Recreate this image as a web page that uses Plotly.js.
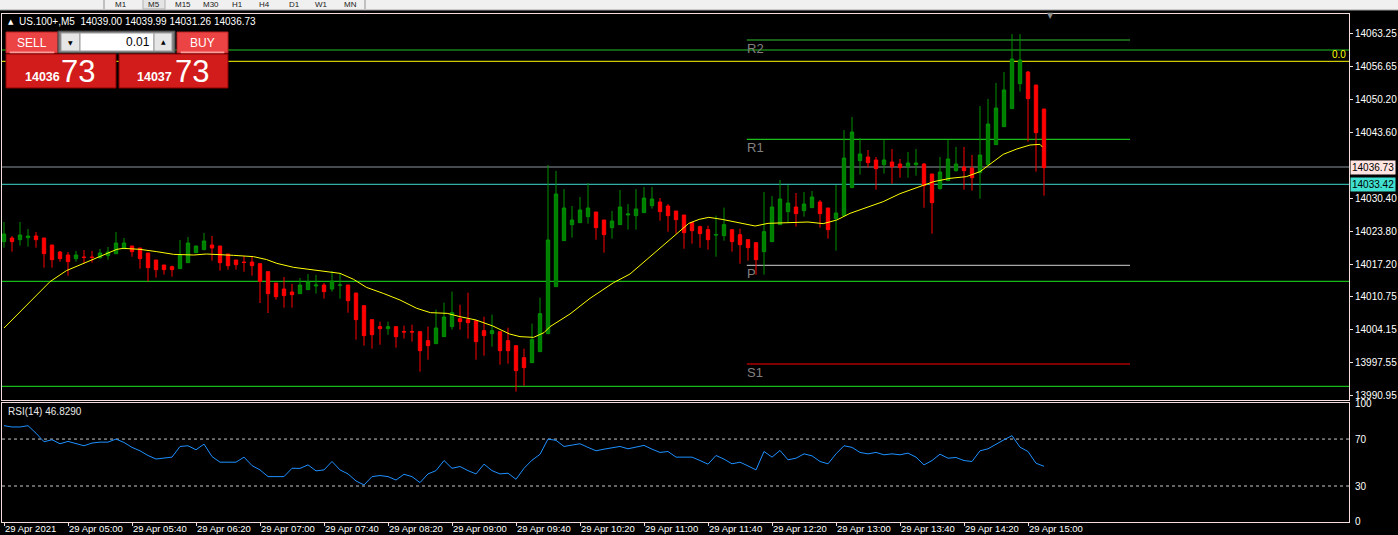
<!DOCTYPE html>
<html><head><meta charset="utf-8">
<script src="https://cdn.plot.ly/plotly-3.0.1.min.js"></script>
<style>html,body{margin:0;padding:0;background:#000;}#chart{width:1398px;height:535px;}</style>
</head><body><div id="chart"></div>
<script>
// ---------- DATA ----------
const symbolHeader = "US.100+,M5\u00a0\u00a014039.00 14039.99 14031.26 14036.73";
const openP = [14021.67,14022.4,14022.07,14022.47,14022.8,14022.4,14021.0,14019.6,14019.0,14018.27,
14018.6,14018.6,14018.47,14018.87,14019.27,14020.27,14020.8,14020.4,14019.4,14018.0,
14017.0,14016.67,14016.27,14017.47,14019.47,14020.07,14021.0,14020.8,14019.2,14018.0,
14017.6,14017.6,14017.27,14015.67,14013.4,14012.2,14011.6,14011.27,14012.07,14012.8,
14013.0,14012.2,14012.95,14013.0,14011.4,14008.87,14006.07,14004.67,14004.27,14004.67,
14003.7,14003.7,14003.67,14001.87,14001.27,14002.67,14004.67,14006.27,14006.07,14005.87,
14003.87,14003.27,14003.67,14001.87,14000.87,13998.47,13997.47,13999.67,14003.27,14012.67,
14021.87,14025.07,14025.47,14026.67,14027.6,14026.0,14024.47,14025.07,14027.0,14026.87,
14027.47,14028.87,14029.6,14028.8,14027.8,14027.0,14025.47,14024.67,14024.07,14023.0,
14022.87,14024.07,14023.07,14022.07,14021.47,14019.67,14021.67,14025.07,14027.67,14028.6,
14027.87,14028.47,14029.6,14028.4,14026.27,14026.87,14032.47,14037.87,14038.6,14038.0,
14037.07,14037.6,14037.2,14036.67,14037.07,14037.2,14035.2,14032.27,14033.87,14035.87,
14036.6,14036.4,14035.47,14037.07,14041.07,14044.67,14048.27,14053.27,14055.6,14053.0,
14048.2];
const highP = [14025.6,14022.8,14025.6,14024.2,14023.6,14022.4,14021.0,14019.8,14019.6,14019.8,
14020.0,14019.8,14020.2,14020.6,14023.6,14022.4,14020.8,14020.4,14019.4,14018.0,
14017.0,14016.87,14022.0,14022.6,14020.8,14023.4,14022.8,14020.8,14019.2,14018.0,
14018.8,14018.8,14017.27,14015.67,14013.4,14014.6,14013.2,14014.4,14015.2,14015.0,
14013.4,14015.8,14015.4,14013.0,14011.4,14008.87,14006.07,14005.67,14005.67,14004.67,
14004.87,14005.07,14003.67,14004.67,14008.07,14009.47,14011.67,14009.07,14011.47,14005.87,
14006.67,14007.07,14003.67,14004.47,14000.87,14000.27,14005.27,14010.47,14037.0,14035.8,
14032.2,14028.8,14030.6,14033.4,14027.6,14026.0,14027.8,14032.0,14029.2,14032.2,
14032.6,14032.6,14030.4,14029.2,14027.8,14027.0,14025.67,14024.87,14024.87,14026.87,
14028.47,14024.07,14024.27,14022.07,14021.47,14031.6,14030.8,14034.0,14033.0,14031.4,
14031.6,14031.8,14030.0,14028.4,14033.0,14044.0,14046.6,14042.4,14040.0,14038.6,
14042.0,14040.2,14038.2,14039.6,14040.2,14037.4,14035.2,14038.6,14042.0,14040.6,
14040.6,14039.0,14048.8,14050.2,14053.4,14055.6,14063.2,14063.2,14055.8,14053.0,
14048.2];
const lowP = [14020.47,14019.67,14020.87,14020.67,14020.47,14016.47,14016.47,14017.67,14014.87,14017.67,
14017.27,14017.47,14018.27,14018.07,14019.27,14020.27,14018.67,14016.27,14013.73,14014.47,
14015.07,14014.67,14016.27,14017.47,14019.47,14020.07,14017.87,14015.87,14016.07,14016.07,
14015.67,14014.87,14009.4,14007.4,14010.07,14008.47,14008.47,14011.27,14012.07,14011.27,
14010.27,14011.67,14010.27,14007.47,14002.07,14000.87,14000.27,14001.07,14003.07,14000.47,
14002.27,14001.67,13995.67,13998.07,14001.27,14002.67,14004.07,14004.07,14002.27,13998.07,
13998.87,14000.67,13997.07,13997.27,13991.67,13992.87,13997.47,13999.67,14003.27,14012.67,
14021.87,14022.47,14025.47,14025.27,14022.07,14019.47,14022.27,14025.07,14024.07,14024.07,
14027.47,14028.27,14025.87,14023.67,14023.27,14020.27,14021.27,14020.47,14020.07,14018.67,
14021.87,14019.67,14017.27,14017.87,14015.07,14015.07,14021.67,14025.07,14025.47,14024.67,
14026.67,14028.47,14024.47,14022.27,14019.87,14026.87,14032.47,14035.07,14036.47,14032.07,
14035.27,14033.27,14034.47,14034.47,14034.87,14028.47,14023.27,14032.07,14033.87,14035.67,
14032.07,14031.87,14030.27,14037.07,14041.07,14044.67,14048.27,14051.67,14041.67,14035.67,
14030.87];
const closeP = [14023.2,14021.67,14023.0,14022.8,14022.07,14019.27,14018.07,14018.27,14017.67,14019.0,
14018.5,14018.5,14019.4,14019.6,14021.4,14021.4,14019.67,14018.27,14016.47,14016.07,
14016.07,14016.07,14019.0,14021.4,14020.8,14021.8,14020.4,14017.47,14016.87,14017.07,
14017.5,14016.87,14013.73,14011.27,14010.67,14010.87,14011.07,14013.0,14013.6,14013.0,
14011.67,14013.8,14013.0,14009.87,14006.07,14002.87,14003.07,14004.27,14004.67,14002.67,
14003.6,14003.6,13999.87,14000.87,14004.4,14006.6,14007.47,14005.67,14005.47,14001.67,
14002.87,14003.87,13999.87,13999.87,13995.87,13996.47,14002.07,14007.27,14022.0,14031.2,
14028.4,14026.0,14028.0,14028.4,14024.47,14023.07,14025.8,14028.6,14027.2,14028.2,
14030.4,14030.2,14027.67,14026.87,14026.07,14023.47,14023.87,14023.27,14022.07,14023.07,
14025.07,14021.67,14021.07,14020.47,14018.07,14023.67,14028.6,14030.2,14029.4,14027.27,
14029.2,14030.6,14027.27,14024.07,14027.4,14038.4,14043.6,14039.2,14037.47,14036.27,
14038.0,14036.67,14036.47,14037.4,14037.4,14032.87,14029.47,14035.6,14038.2,14037.2,
14035.87,14034.47,14039.0,14045.2,14048.4,14052.0,14058.2,14058.0,14050.27,14043.47,
14036.47];
// moving average (yellow), read at bar positions
const maBar = [0,1.6,3.6,5.75,7.8,9.9,12,14.1,14.9,17,19.1,21.2,23.7,25.3,28.7,31.2,32.8,34.1,36.2,38.2,
40.3,42,43.7,45.3,47.4,49.5,51.6,53.3,55.4,57,59,61.1,63.2,64.5,66.2,67.5,68.25,70.75,73.25,76.2,
78.25,80.3,82.3,84.4,85.6,86.9,88.1,89.75,91.4,93.9,95.5,98,100.5,102.4,104.1,105.75,107.8,109.9,112,114.1,
116.2,118.25,120.3,122,123.25,124.9,126.6,128.25,129.5,129.8];
const maVal = [14004.4,14007.0,14010.33,14013.67,14015.87,14017.33,14018.8,14020.13,14020.33,14020.13,14019.67,14019.13,14019.0,14019.2,14018.93,14018.67,14018.1,14017.33,14016.53,14016.13,
14015.6,14015.33,14014.13,14012.53,14011.33,14010.0,14008.33,14007.47,14007.33,14006.67,14006.0,14004.8,14003.2,14002.67,14002.53,14003.47,14004.67,14007.2,14010.33,14013.47,
14015.2,14018.0,14020.67,14023.67,14025.33,14026.13,14026.53,14026.13,14025.6,14024.8,14025.33,14025.47,14025.6,14025.27,14026.0,14027.33,14028.47,14029.67,14031.27,14032.53,
14033.67,14034.33,14034.67,14035.67,14037.13,14039.13,14040.2,14041.0,14041.13,14040.6];
const rsiVal = [81.4,80.3,80.3,81.4,75,67.7,69.4,66,68,66,64.3,66.6,67.4,67.4,70,67.1,62.9,60,56,53,
53.5,54.6,63.7,64.3,60.9,65.7,55.1,50.3,50.3,50.3,54.6,47.4,43.7,38,38,38,45.1,45,48,42.9,
43.7,50.9,43.7,40.3,34.3,30.9,38,38.9,38,35.1,40,38,32.9,40.3,43.1,51.7,45.1,46.6,43.1,40.3,
48.6,43.1,40.3,40.9,35.7,45.1,52,57,70,68.9,63.7,65,66,62.9,60,61.4,62.3,63.7,61.7,63.1,
64.6,61.4,58.6,59.4,54.6,54.6,54.6,51.7,48.6,56,52.9,48.9,50.3,47.1,43.7,59.4,54.6,60.3,52.3,53.7,
57.4,55.7,50.9,48.9,57.4,64.3,62.9,58.6,57.4,58.6,56.6,57.4,56.6,58,54.6,48,51.7,57.1,53.7,54.3,
51.7,50.9,60,61.7,65.7,69.4,72.9,63.1,59.4,49.4,46.8];
const rsiLabel = "RSI(14) 46.8290";
const rsiLevels = [70, 30];
const rsiTicks = [0, 30, 70, 100];
const timeTickBars = [0,8,16,24,32,40,48,56,64,72,80,88,96,104,112,120,128];
const timeTickText = ["29 Apr 2021","29 Apr 05:00","29 Apr 05:40","29 Apr 06:20","29 Apr 07:00","29 Apr 07:40",
"29 Apr 08:20","29 Apr 09:00","29 Apr 09:40","29 Apr 10:20","29 Apr 11:00","29 Apr 11:40","29 Apr 12:20",
"29 Apr 13:00","29 Apr 13:40","29 Apr 14:20","29 Apr 15:00"];
const priceTicks = [14063.25,14056.65,14050.20,14043.60,14030.40,14023.80,14017.20,14010.75,14004.15,13997.55,13990.95];
// full-width horizontal levels
const fullLevels = [14060.0, 14057.74, 14036.6, 14033.14, 14013.74, 13992.74];
const fullLevelColors = ['#22c322', '#ffff00', '#8c96a0', '#40d8d0', '#1ee61e', '#1ee61e'];
// pivot levels
const pivotNames = ["R2", "R1", "P", "S1"];
const pivotLevels = [14062.0, 14042.14, 14016.94, 13997.2];
const pivotColors = ['#33c033', '#22ee22', '#d0d0d0', '#ff0000'];
const bidText = "14036.73", askText = "14033.42";
const fiboText = "0.0";
const bidPrice = ["14036", "73"], askPrice = ["14037", "73"];
const lotText = "0.01";
const toolbarItems = ["M1","M5","M15","M30","H1","H4","D1","W1","MN"];

// ---------- LAYOUT HELPERS ----------
const W = 1398, H = 535, L = 2, R = 49, T = 14, B = 13;
const px = x => (x - L) / (W - L - R);
const py = y => (H - B - y) / (H - T - B);
const bars = openP.map((_, i) => i);
const FONT = "Liberation Sans, Arial, sans-serif";
const border = '#f2dcdc';

const traces = [
  {type: 'candlestick', x: bars, open: openP, high: highP, low: lowP, close: closeP,
   xaxis: 'x2', yaxis: 'y', whiskerwidth: 0,
   increasing: {line: {color: '#009000', width: 1}, fillcolor: '#008000'},
   decreasing: {line: {color: '#ff0000', width: 1}, fillcolor: '#ff0000'},
   hoverinfo: 'skip', showlegend: false},
  {type: 'scatter', mode: 'lines', x: maBar, y: maVal, xaxis: 'x2', yaxis: 'y',
   line: {color: '#ffff00', width: 1}, hoverinfo: 'skip', showlegend: false},
  {type: 'scatter', mode: 'lines', x: bars, y: rsiVal, xaxis: 'x', yaxis: 'y2',
   line: {color: '#1e90ff', width: 1}, hoverinfo: 'skip', showlegend: false}
];

const shapes = [];
const annotations = [];
fullLevels.forEach((v, k) => shapes.push({type: 'line', xref: 'paper', yref: 'y', x0: 0, x1: 1, y0: v, y1: v,
  line: {color: fullLevelColors[k], width: 1}, layer: 'below'}));
pivotLevels.forEach((v, k) => {
  shapes.push({type: 'line', xref: 'x2', yref: 'y', x0: 92.85, x1: 140.75, y0: v, y1: v,
    line: {color: pivotColors[k], width: 1}, layer: 'below'});
  annotations.push({xref: 'x2', yref: 'y', x: 92.85, y: v, text: pivotNames[k], showarrow: false,
    xanchor: 'left', yanchor: 'top', xshift: -2, yshift: 1, font: {family: FONT, size: 13, color: '#808080'}});
});
rsiLevels.forEach(v => shapes.push({type: 'line', xref: 'paper', yref: 'y2', x0: 0, x1: 1, y0: v, y1: v,
  line: {color: '#c8c8c8', width: 1, dash: '3px,3px'}, layer: 'below'}));

// price labels on the right
annotations.push({xref: 'paper', yref: 'y', x: 1, y: fullLevels[2], text: bidText, showarrow: false,
  xanchor: 'left', yanchor: 'middle', xshift: 1, bgcolor: '#ffe4e1', borderpad: 1, font: {family: FONT, size: 10, color: '#000'}});
annotations.push({xref: 'paper', yref: 'y', x: 1, y: fullLevels[3], text: askText, showarrow: false,
  xanchor: 'left', yanchor: 'middle', xshift: 1, bgcolor: '#40e0d0', borderpad: 1, font: {family: FONT, size: 10, color: '#000'}});
annotations.push({xref: 'paper', yref: 'y', x: 1, y: fullLevels[1], text: fiboText, showarrow: false,
  xanchor: 'right', yanchor: 'bottom', xshift: -1, yshift: -1, font: {family: FONT, size: 10, color: '#ffff00'}});

// toolbar strip
shapes.push({type: 'rect', xref: 'paper', yref: 'paper', x0: px(0), x1: px(W), y0: py(10), y1: py(-2),
  fillcolor: '#f0f0f0', line: {width: 0}, layer: 'above'});
shapes.push({type: 'line', xref: 'paper', yref: 'paper', x0: px(0), x1: px(W), y0: py(10), y1: py(10),
  line: {color: '#a0a0a0', width: 1}, layer: 'above'});
shapes.push({type: 'rect', xref: 'paper', yref: 'paper', x0: px(143), x1: px(165), y0: py(9), y1: py(-2),
  fillcolor: '#e4e4e4', line: {color: '#b0b0b0', width: 1}, layer: 'above'});
[104, 365].forEach(x => shapes.push({type: 'line', xref: 'paper', yref: 'paper', x0: px(x), x1: px(x), y0: py(9), y1: py(0),
  line: {color: '#909090', width: 1}, layer: 'above'}));
const tbX = [121, 154, 183, 211, 238, 264, 294, 321, 350];
toolbarItems.forEach((t, k) => annotations.push({xref: 'paper', yref: 'paper', x: px(tbX[k]), y: py(4.5), text: t,
  showarrow: false, xanchor: 'center', yanchor: 'middle', font: {family: FONT, size: 8, color: '#202020'}}));

// chart-shift marker
annotations.push({xref: 'paper', yref: 'paper', x: px(1050), y: py(16), text: '\u25BC', showarrow: false,
  xanchor: 'center', yanchor: 'middle', font: {family: 'DejaVu Sans', size: 8, color: '#909090'}});

// header text
annotations.push({xref: 'paper', yref: 'paper', x: px(6), y: py(22), text: '\u25B2', showarrow: false,
  xanchor: 'left', yanchor: 'middle', font: {family: 'DejaVu Sans', size: 7, color: '#ffffff'}});
annotations.push({xref: 'paper', yref: 'paper', x: px(17), y: py(22), text: symbolHeader, showarrow: false,
  xanchor: 'left', yanchor: 'middle', font: {family: FONT, size: 10, color: '#ffffff'}});
annotations.push({xref: 'paper', yref: 'paper', x: px(6), y: py(411), text: rsiLabel, showarrow: false,
  xanchor: 'left', yanchor: 'middle', font: {family: FONT, size: 10, color: '#e8e8e8'}});

// one-click trading panel
function rect(x0, y0, x1, y1, fill, lc) {
  shapes.push({type: 'rect', xref: 'paper', yref: 'paper', x0: px(x0), x1: px(x1), y0: py(y1), y1: py(y0),
    fillcolor: fill, line: {color: lc || fill, width: 1}, layer: 'above'});
}
function txt(x, y, t, size, color, anchor, bold, fam) {
  annotations.push({xref: 'paper', yref: 'paper', x: px(x), y: py(y), text: bold ? '<b>' + t + '</b>' : t,
    showarrow: false, xanchor: anchor || 'center', yanchor: 'middle',
    font: {family: fam || FONT, size: size, color: color}});
}
rect(6, 32, 58, 53, '#ec4444', '#b82020');
rect(10, 52, 54, 53, '#ff9a9a');
rect(58, 31, 175, 53, '#7a7a7a', '#404040');
rect(61, 33, 80, 51, '#e6e6e6', '#9a9a9a');
rect(80, 33, 154, 51, '#ffffff', '#9a9a9a');
rect(154, 33, 172, 51, '#e6e6e6', '#9a9a9a');
rect(177, 32, 228, 53, '#ec4444', '#b82020');
rect(181, 52, 224, 53, '#ff9a9a');
rect(6, 54, 116, 88, '#d21c1c', '#8a0000');
rect(119, 54, 228, 88, '#d21c1c', '#8a0000');
txt(32, 43, 'SELL', 12, '#ffffff');
txt(202, 43, 'BUY', 12, '#ffffff');
txt(70, 42, '\u25BC', 6, '#000000', 'center', false, 'DejaVu Sans');
txt(163, 41, '\u25B2', 6, '#000000', 'center', false, 'DejaVu Sans');
txt(152, 42, lotText, 12, '#000000', 'right');
txt(23, 77, bidPrice[0], 12.5, '#ffffff', 'left', true);
txt(59, 71, bidPrice[1], 31, '#ffffff', 'left');
txt(135, 77, askPrice[0], 12.5, '#ffffff', 'left', true);
txt(173, 71, askPrice[1], 31, '#ffffff', 'left');

const mainBottom = py(400), rsiTop = py(402.7);
const layout = {
  width: W, height: H, margin: {l: L, r: R, t: T, b: B, pad: 0},
  paper_bgcolor: '#000000', plot_bgcolor: '#000000', hovermode: false, showlegend: false,
  font: {family: FONT, size: 10, color: '#ffffff'},
  boxgap: 0.4,
  xaxis: {domain: [0, 1], anchor: 'y2', range: [-0.25, 168.125], showgrid: false, zeroline: false,
    tickmode: 'array', tickvals: timeTickBars, ticktext: timeTickText, ticks: 'outside', ticklen: 3,
    tickangle: 0, automargin: false, ticklabelstandoff: -2,
    tickcolor: border, ticklabelposition: 'outside right', tickfont: {family: FONT, size: 9.5, color: '#ffffff'},
    showline: true, linecolor: border, linewidth: 1, mirror: true},
  xaxis2: {domain: [0, 1], anchor: 'y', matches: 'x', range: [-0.25, 168.125], showgrid: false, zeroline: false,
    showticklabels: false, ticks: '', rangeslider: {visible: false},
    showline: true, linecolor: border, linewidth: 1, mirror: true},
  yaxis: {domain: [mainBottom, 1], anchor: 'x2', side: 'right', range: [13990.0, 14067.2], showgrid: false,
    zeroline: false, tickmode: 'array', tickvals: priceTicks, tickformat: '.2f', ticks: 'outside', ticklen: 3,
    tickcolor: border, tickfont: {family: FONT, size: 10, color: '#ffffff'},
    showline: true, linecolor: border, linewidth: 1, mirror: true},
  yaxis2: {domain: [0, rsiTop], anchor: 'x', side: 'right', range: [-0.68, 100.99], showgrid: false,
    zeroline: false, tickmode: 'array', tickvals: rsiTicks, ticks: '', ticklabelstandoff: 3,
    tickfont: {family: FONT, size: 10, color: '#ffffff'},
    showline: true, linecolor: border, linewidth: 1, mirror: true},
  shapes: shapes, annotations: annotations
};
Plotly.newPlot('chart', traces, layout, {staticPlot: true, displayModeBar: false});
</script></body></html>
